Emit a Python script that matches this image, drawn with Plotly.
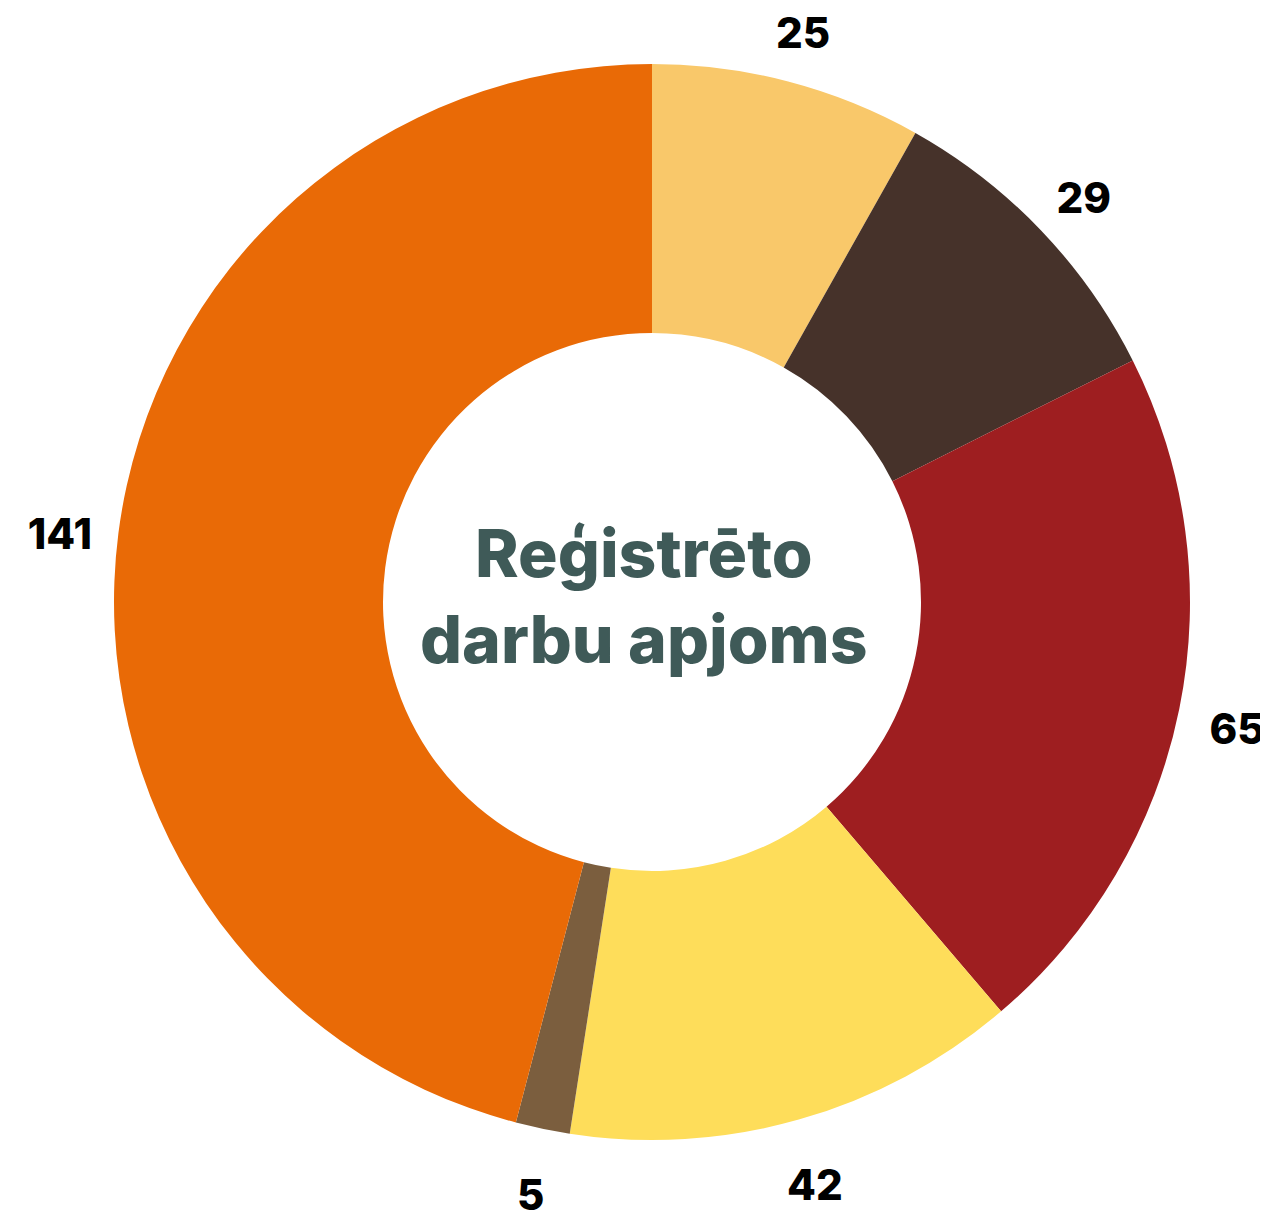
import math
import plotly.graph_objects as go

categories = ["A", "B", "C", "D", "E", "F"]
values = [25, 29, 65, 42, 5, 141]
colors = ["#F9C86A", "#46322A", "#9E1E20", "#FEDD5A", "#7B5E3E", "#E96A06"]
value_labels = [str(v) for v in values]
center_title = "Reģistrēto<br>darbu apjoms"

W, H = 1268, 1210
cx, cy = 644, 594      # donut centre (figure px; page adds 8px body margin)
R_ring = 538           # ring outer radius, px
label_r = 597          # label anchor distance from centre, px
label_drop = 13        # labels sit slightly below their anchor, px


def dom(r):
    return dict(
        x=[(cx - r) / W, (cx + r) / W],
        y=[(H - cy - r) / H, (H - cy + r) / H],
    )


# mid-angle of each slice (clockwise from 12 o'clock), from the data
total = sum(values)
mid_theta = []
acc = 0
for v in values:
    mid_theta.append((acc + v / 2) / total * 2 * math.pi)
    acc += v
lab_x = [label_r * math.sin(t) for t in mid_theta]
lab_y = [label_r * math.cos(t) - label_drop for t in mid_theta]

fig = go.Figure()

fig.add_trace(go.Pie(
    labels=categories,
    values=values,
    marker=dict(colors=colors, line=dict(width=0)),
    hole=0.5,
    sort=False,
    direction="clockwise",
    rotation=0,
    textinfo="none",
    showlegend=False,
    domain=dom(R_ring),
))

# value labels, on a pixel-scaled cartesian overlay centred on the donut
fig.add_trace(go.Scatter(
    x=lab_x,
    y=lab_y,
    mode="text",
    text=value_labels,
    textposition="middle center",
    textfont=dict(family="Inter", size=42, color="#000000", weight=800),
    cliponaxis=False,
    showlegend=False,
    hoverinfo="skip",
))

fig.add_annotation(
    x=636 / W, y=1 - 588 / H, xref="paper", yref="paper",
    text=center_title, showarrow=False,
    font=dict(family="Inter", size=66, color="#3F5A58", weight=800),
    align="center",
)

fig.update_layout(
    width=W, height=H,
    margin=dict(l=0, r=0, t=0, b=0),
    paper_bgcolor="white", plot_bgcolor="rgba(0,0,0,0)",
    xaxis=dict(range=[-cx, W - cx], visible=False, showgrid=False,
               zeroline=False, domain=[0, 1]),
    yaxis=dict(range=[-(H - cy), cy], visible=False, showgrid=False,
               zeroline=False, domain=[0, 1]),
)

fig.write_html("out.html")
